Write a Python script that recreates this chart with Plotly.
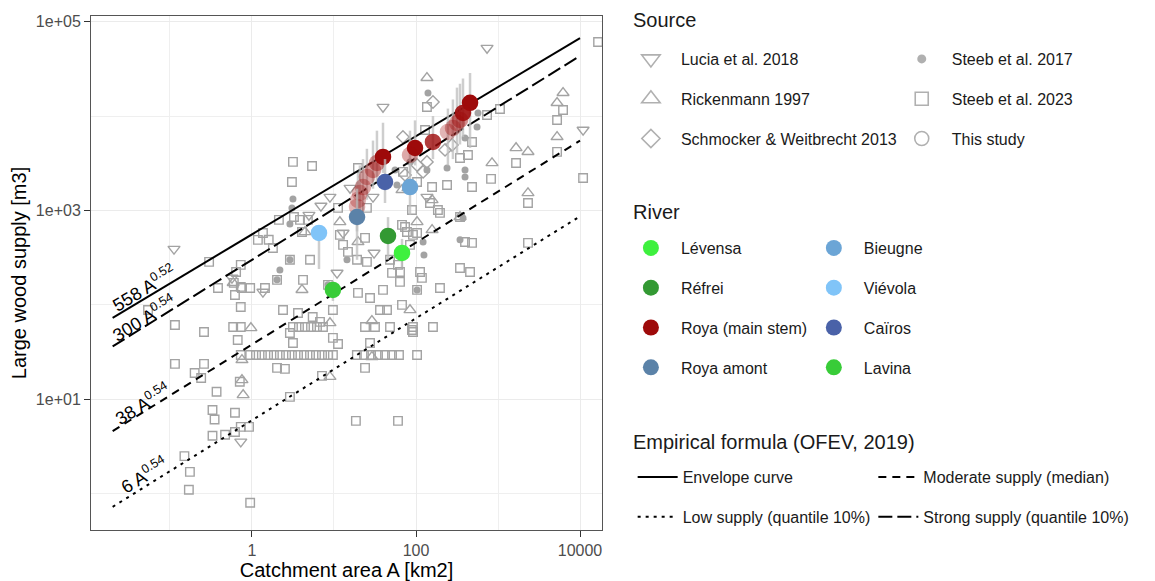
import plotly.graph_objects as go

# ------------------------------------------------------------------ data
# Steeb et al. 2023 (open squares)
steeb2023_A = [0.30, 1.18, 0.73, 0.64, 1.6, 1.8, 2.13, 3.25, 4.8, 5.1,
               3.16, 5.4, 3.07, 19.6, 11.2, 25.2, 3.85, 1.36, 4.07, 11.8,
               12.9, 14.8, 23.9, 19.1, 25.2, 4.19, 67.5, 77.6, 91.8, 84.5,
               60.3, 51, 63.8, 112, 118, 69.3, 103, 89.3, 136, 129,
               735, 1057, 6210, 5250, 5250, 16600, 1660, 822, 10900, 2320,
               482, 430, 344, 239, 157, 482, 148, 185, 2320, 396,
               482, 344, 456, 196, 161, 92, 103, 0.054, 0.115, 0.26,
               0.385, 0.62, 0.73, 0.73, 0.95, 0.59, 0.73, 0.67, 0.115, 0.26,
               0.2, 0.24, 0.73, 0.95, 0.71, 0.37, 0.33, 0.35, 0.62, 0.33,
               0.47, 0.62, 0.73, 0.92, 0.15, 0.175, 0.17, 0.95,
               1.12, 1.32, 1.57, 1.85, 2.19, 2.6, 3.07, 3.64, 4.31, 5.1,
               6.03, 7.14, 8.45, 9.7, 19, 23.2, 28.3, 34.4, 41.9, 51, 62,
               3.16, 3.74, 4.43, 5.25, 6.2, 7.34, 23.9, 31.6, 48.2, 91.8,
               2.02, 2.52, 23.9, 7.14, 2.9, 18.5, 60.3, 9.7, 11.2, 3.16,
               2.9, 27.5, 2.39, 3.64, 5.5, 6.75, 9.7, 19.6, 27.5, 39.6,
               63.8, 67.5, 36.4, 44.3, 89.3, 0.6, 0.755, 1.44, 73.5, 103,
               196, 344, 48.2, 2.9, 2.02, 8.45, 103]
steeb2023_V = [285, 488, 265, 223, 490, 400, 794, 853, 794, 300,
               3270, 2960, 2000, 2820, 1064, 1064, 794, 578, 592, 551,
               432, 364, 512, 300, 285, 184, 703, 592, 551, 432,
               265, 218, 223, 223, 193, 2560, 2000, 1012, 12470, 7130,
               10280, 11890, 11610, 9100, 4170, 61000, 3180, 2160, 2210, 1200,
               5320, 3870, 3600, 1860, 1770, 1770, 1200, 1012, 453, 464,
               453, 246, 223, 151, 58.3, 51.6, 29.4, 88.3, 61.2, 51.6,
               151, 127, 95, 155, 151, 58.3, 58.3, 42.5, 23.7, 23.7,
               19, 16.8, 29.4, 29.4, 15.3, 12, 7.7, 6.1, 7.2, 4.1,
               4.2, 4.5, 5.1, 5.1, 2.5, 1.7, 1.1, 0.8,
               29.4, 29.4, 29.4, 29.4, 29.4, 29.4, 29.4, 29.4, 29.4, 29.4,
               29.4, 29.4, 29.4, 29.4, 29.4, 29.4, 29.4, 29.4, 29.4, 29.4, 29.4,
               58.3, 58.3, 58.3, 58.3, 58.3, 58.3, 58.3, 58.3, 58.3, 58.3,
               21.5, 21, 21.5, 17.7, 10.6, 5.9, 5.9, 44.7, 38.5, 39.5,
               50.4, 39.5, 88.3, 82, 74.5, 66, 88.3, 134, 118, 144,
               175, 100, 88.3, 88.3, 54.2, 171, 151, 151, 668, 578,
               942, 853, 300, 300, 184, 163, 144]

# Steeb et al. 2017 (small filled dots)
steeb2017_A = [140, 570, 555, 396, 396, 396, 239, 374, 344, 125,
               122, 55.5, 58.6, 84.5, 3.16, 3.07, 2.19, 14.4, 73.5, 2.9,
               2.9, 2.02, 8.45, 103, 136]
steeb2017_V = [17600, 10800, 7670, 5860, 2690, 2260, 2820, 834, 488, 338,
               464, 2690, 1860, 3270, 1320, 1064, 234, 300, 355, 720,
               300, 184, 163, 144, 2690]

# Lucia et al. 2018 (open down-triangles)
lucia_A = [0.112, 0.57, 39.6, 735, 10900, 15.7, 8.93, 6.93, 4.95, 29.9,
           10.9, 30.8, 12.9, 136, 0.73, 1.36]
lucia_V = [391, 193, 12470, 52600, 7130, 1730, 1390, 1117, 895, 1390,
           218, 355, 578, 1390, 3.55, 137]

# Rickenmann 1997 (open up-triangles)
rick_A = [136, 6210, 5250, 5250, 1660, 2320, 845, 2320, 79.8, 67.5,
          344, 157, 103, 4.43, 11.8, 19.6, 4.07, 0.59, 0.97, 0.755,
          0.755, 0.78, 8.93, 8.93, 29, 29, 84.5, 157]
rick_V = [25400, 17600, 13800, 6010, 4590, 4170, 3180, 1530, 1730, 1650,
          853, 622, 755, 592, 755, 464, 144, 171, 56.9, 26.1,
          16, 11.1, 64.3, 17.3, 28.1, 67.6, 88.3, 1290]

# Schmocker & Weitbrecht 2013 (open diamonds)
schm_A = [69.3, 161, 226, 275, 122, 103, 73.5, 136]
schm_V = [6010, 14100, 4380, 4940, 2560, 3030, 2380, 3270]

# This study, by river
rivers = ["Lévensa", "Réfrei", "Roya (main stem)", "Roya amont",
          "Bieugne", "Viévola", "Caïros", "Lavina"]
river_colors = ["#3EF03E", "#339933", "#9E0A0A", "#5B82A8",
                "#6BA5D6", "#80C4F8", "#4A62A8", "#38CC38"]
river_A = {
    "Lévensa": [67.5], "Réfrei": [45.6],
    "Roya (main stem)": [456, 374, 344, 316, 282, 245, 161, 97.3, 84.5,
                         39.6, 33.4, 29.9, 25.2, 22.6, 20.7, 19.6, 19.1],
    "Roya amont": [19.1], "Bieugne": [84.5], "Viévola": [6.56],
    "Caïros": [41.9], "Lavina": [9.7],
}
river_V = {
    "Lévensa": [355], "Réfrei": [537],
    "Roya (main stem)": [13800, 10800, 9100, 8450, 7480, 6790, 5320, 4590, 3870,
                         3690, 3180, 2690, 2260, 1770, 1530, 1290, 1090],
    "Roya amont": [853], "Bieugne": [1770], "Viévola": [578],
    "Caïros": [2000], "Lavina": [144],
}
river_V_high = {
    "Lévensa": [500], "Réfrei": [850],
    "Roya (main stem)": [28600, 25000, 22000, 20000, 15000, 12000, 10000, 9000, 7000,
                         8500, 7000, 5500, 4500, 3500, 3000, 2500, 2000],
    "Roya amont": [1700], "Bieugne": [3000], "Viévola": [700],
    "Caïros": [3500], "Lavina": [180],
}
river_V_low = {
    "Lévensa": [250], "Réfrei": [300],
    "Roya (main stem)": [4600, 6000, 5000, 4000, 3500, 3000, 3500, 3000, 2500,
                         2500, 2000, 1700, 1300, 1000, 900, 700, 600],
    "Roya amont": [300], "Bieugne": [900], "Viévola": [240],
    "Caïros": [1200], "Lavina": [110],
}
roya_alpha = [1, 0.9, 0.45, 0.35, 0.35, 0.3, 0.8, 1, 0.35,
              1, 0.45, 0.4, 0.35, 0.35, 0.3, 0.3, 0.3]

# Empirical formula (OFEV, 2019): V = c * A^b
formula_names = ["Envelope curve", "Low supply (quantile 10%)",
                 "Moderate supply (median)", "Strong supply (quantile 10%)"]
formula_coef = [558, 6, 38, 300]
formula_exp = [0.52, 0.54, 0.54, 0.54]
formula_A_range = [0.02, 10000]

x_ticks = [1, 100, 10000]
x_ticktext = ["1", "100", "10000"]
y_ticks = [10, 1000, 100000]
y_ticktext = ["1e+01", "1e+03", "1e+05"]

# ------------------------------------------------------------------ style
FONT = "Liberation Sans, Arial, sans-serif"
GREY = "#A3A3A3"
fig = go.Figure()


def grey_points(A, V, symbol, size, filled=False):
    mk = dict(symbol=symbol, size=size, color=GREY)
    if not filled:
        mk["line"] = dict(color=GREY, width=1.4)
    fig.add_trace(go.Scatter(x=A, y=V, mode="markers", marker=mk,
                             showlegend=False, hoverinfo="skip"))


grey_points(steeb2023_A, steeb2023_V, "square-open", 8.5)
grey_points(rick_A, rick_V, "triangle-up-open", 10.5)
grey_points(lucia_A, lucia_V, "triangle-down-open", 10.5)
grey_points(schm_A, schm_V, "diamond-open", 9.5)
grey_points(steeb2017_A, steeb2017_V, "circle", 7, filled=True)

# formula lines
dash_styles = ["solid", "3px,5px", "8px,6px", "14px,5px"]
legend_of_line = ["legend5", "legend5", "legend6", "legend6"]
for name, c, b, d, lg in zip(formula_names, formula_coef, formula_exp,
                             dash_styles, legend_of_line):
    fig.add_trace(go.Scatter(
        x=formula_A_range, y=[c * a ** b for a in formula_A_range],
        mode="lines", name=name, line=dict(color="black", width=2, dash=d),
        legend=lg, legendgroup=name, hoverinfo="skip"))

# this study points with error bars
for i, r in enumerate(rivers):
    A = river_A[r]
    V = river_V[r]
    up = [h - v for h, v in zip(river_V_high[r], V)]
    dn = [v - l for v, l in zip(V, river_V_low[r])]
    if r == "Roya (main stem)":
        col = ["rgba(158,10,10,%.2f)" % a for a in roya_alpha]
    else:
        col = river_colors[i]
    fig.add_trace(go.Scatter(
        x=A, y=V, mode="markers", name=r,
        marker=dict(color=col, size=16.5, line=dict(width=0)),
        error_y=dict(type="data", symmetric=False, array=up, arrayminus=dn,
                     color="rgba(190,190,190,0.75)", thickness=2.5, width=0),
        legend="legend3" if i < 4 else "legend4", legendgroup=r,
        hoverinfo="skip"))

# Source legend entries (legend-only symbols)
source_names = ["Lucia et al. 2018", "Rickenmann 1997", "Schmocker & Weitbrecht 2013",
                "Steeb et al. 2017", "Steeb et al. 2023", "This study"]
source_symbols = ["triangle-down-open", "triangle-up-open", "diamond-open",
                  "circle", "square-open", "circle-open"]
source_sizes = [16, 16, 14, 9, 13, 14]
for i, (n, s, sz) in enumerate(zip(source_names, source_symbols, source_sizes)):
    mk = dict(symbol=s, size=sz, color="#B0B0B0")
    if s != "circle":
        mk["line"] = dict(color="#B0B0B0", width=1.6)
    fig.add_trace(go.Scatter(x=[None], y=[None], mode="markers", name=n, marker=mk,
                             legend="legend" if i < 3 else "legend2",
                             legendgroup=n))

# ------------------------------------------------------------------ layout
axis_common = dict(type="log", showline=True, mirror=True, linecolor="#555555",
                   linewidth=1, ticks="outside", ticklen=6, tickcolor="#333333",
                   gridcolor="#EBEBEB", gridwidth=1.2, zeroline=False,
                   automargin=False,
                   tickfont=dict(family=FONT, size=16, color="#4D4D4D"))
fig.update_xaxes(**axis_common, range=[-1.963, 4.268], tickvals=x_ticks,
                 ticktext=x_ticktext,
                 minor=dict(tickvals=[0.1, 10, 1000], showgrid=True,
                            gridcolor="#EFEFEF", gridwidth=0.8, ticklen=0),
                 title=dict(text="Catchment area A [km2]", standoff=4,
                            font=dict(family=FONT, size=20, color="black")))
fig.update_yaxes(**axis_common, range=[-0.385, 5.06], tickvals=y_ticks,
                 ticktext=y_ticktext,
                 minor=dict(tickvals=[1, 100, 10000], showgrid=True,
                            gridcolor="#EFEFEF", gridwidth=0.8, ticklen=0),
                 title=dict(text="Large wood supply [m3]", standoff=6,
                            font=dict(family=FONT, size=20, color="black")))

leg_common = dict(orientation="v", xanchor="left", yanchor="top",
                  bgcolor="rgba(0,0,0,0)", tracegroupgap=16, itemsizing="trace",
                  font=dict(family=FONT, size=16, color="#1A1A1A"),
                  itemclick=False, itemdoubleclick=False)
# page body adds an 8px offset, so the figure is 8px smaller than the window
fig.update_layout(
    width=1147, height=573,
    margin=dict(l=83, r=553, t=8, b=51),
    paper_bgcolor="white", plot_bgcolor="white",
    font=dict(family=FONT),
    hovermode=False,
    legend=dict(**leg_common, x=1.037, y=0.9494, itemwidth=50),
    legend2=dict(**leg_common, x=1.567, y=0.9494, itemwidth=50),
    legend3=dict(**leg_common, x=1.037, y=0.5817, itemwidth=50),
    legend4=dict(**leg_common, x=1.395, y=0.5817, itemwidth=50),
    legend5=dict(**leg_common, x=1.06, y=0.1362, itemwidth=40),
    legend6=dict(**leg_common, x=1.531, y=0.1362, itemwidth=40),
)

# formula labels on the lines
label_text = ["558 A<sup>0.52</sup>", "300 A<sup>0.54</sup>",
              "38 A<sup>0.54</sup>", "6 A<sup>0.54</sup>"]
label_pos_logA = [-1.305, -1.305, -1.329, -1.305]
label_pos_logV = [2.179, 1.861, 0.96, 0.198]
for t, lx, ly in zip(label_text, label_pos_logA, label_pos_logV):
    fig.add_annotation(x=lx, y=ly, xref="x", yref="y", text=t, showarrow=False,
                       textangle=-31, font=dict(family=FONT, size=18, color="black"))

# legend section titles
for t, y in [("Source", 0.992), ("River", 0.6187),
             ("Empirical formula (OFEV, 2019)", 0.1712)]:
    fig.add_annotation(x=1.057, y=y, xref="paper", yref="paper", text=t,
                       showarrow=False, xanchor="left", yanchor="middle",
                       font=dict(family=FONT, size=20, color="#1A1A1A"))

fig.write_html("out.html")
